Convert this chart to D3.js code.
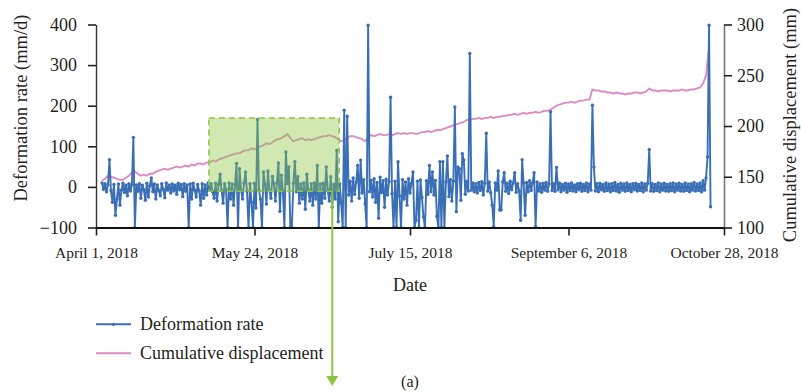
<!DOCTYPE html>
<html>
<head>
<meta charset="utf-8">
<script src="https://cdn.jsdelivr.net/npm/d3@7"></script>
<style>
  body { margin: 0; background: #fff; }
  svg { display: block; font-family: "Liberation Serif", "Times New Roman", serif; }
</style>
</head>
<body>
<svg id="chart" width="801" height="392"></svg>
<script>
// deformation rate (mm/d), one reading every 12 h from April 3, 2018
const rateValues = [
  10,-6,8,-12,5,67,-9,-38,6,-70,-30,7,-45,-8,9,-14,4,-22,8,-10,
  6,122,-100,5,-11,8,-28,4,-7,-33,9,-25,3,22,-12,7,-30,5,-9,-22,
  8,-6,-27,10,-8,5,-15,7,-10,4,-18,9,-7,6,-24,8,-11,5,-100,7,
  -30,9,-8,-25,6,-10,-45,8,-28,5,-20,10,-7,8,-12,-28,9,-35,6,31,
  -9,-40,8,-6,-100,10,-30,7,-45,5,58,-100,45,-8,-30,9,37,-11,-100,8,
  -38,-100,9,-52,166,-8,-30,-100,37,6,-42,39,-9,-28,26,7,-35,10,59,-60,
  29,-10,-100,86,8,49,-100,-100,9,62,-12,25,-40,7,-30,10,-55,31,-8,-35,
  8,-45,10,-30,53,-100,7,-40,9,-28,49,-9,-35,25,-50,6,-30,90,-86,8,
  -40,-100,189,-100,174,-20,14,-35,22,-18,12,53,-28,66,-15,18,-42,-100,398,-12,
  16,-25,20,-38,11,-77,24,-14,15,-50,19,-20,13,221,-16,-100,14,-100,62,-22,
  -100,18,-30,12,-45,20,-15,9,37,-100,-82,14,-100,17,-26,-74,-100,15,-18,53,
  -12,37,-20,16,-72,-100,62,-100,62,-100,12,76,-24,18,-35,14,197,-61,49,45,
  -33,82,66,-18,14,-10,329,-8,10,-12,8,-15,11,-9,13,-20,9,132,-10,12,
  -14,-45,-98,10,-8,39,-57,-57,12,35,-11,9,-16,14,-7,10,35,-13,8,-10,
  -82,67,9,-70,11,-12,15,-9,10,35,-98,12,-10,8,-13,9,-8,11,-11,7,
  185,-9,8,-11,48,-7,10,-12,6,-8,9,-13,7,-9,10,-10,5,-12,8,-7,
  9,-11,6,-9,10,-12,7,-8,201,49,-10,8,-12,9,-7,6,-11,10,-9,7,
  -12,8,-9,11,-10,6,-13,9,-8,7,-11,10,-9,6,-12,8,-7,9,-10,6,
  -9,10,-12,7,-8,9,92,-10,8,-11,6,-9,10,-12,7,-8,9,-10,6,-11,
  8,-9,10,-12,7,-8,9,-10,6,-11,10,-9,7,-12,8,-8,11,-10,7,-9,
  10,-12,15,-8,22,74,398,-49
];

// cumulative displacement (mm), one reading per day from April 3, 2018
const dispValues = [
  146,148,151,150,149,148,147,147,149,151,
  154,155,153,151,152,151,153,153,155,156,
  157,158,157,158,159,160,159,160,161,160,
  162,161,163,163,162,164,164,166,165,167,
  168,169,170,171,172,173,173,175,176,176,
  178,177,179,180,181,183,182,184,186,187,
  188,190,192,188,185,186,187,188,186,187,
  186,187,188,189,190,190,191,190,189,187,
  185,186,188,190,190,189,188,187,185,189,
  191,190,191,192,191,191,192,191,192,193,
  192,193,192,193,193,192,193,194,194,195,
  194,195,196,196,197,198,199,200,201,202,
  203,204,206,206,207,207,208,207,208,208,
  209,208,209,209,210,210,211,211,212,211,
  212,213,212,213,213,214,213,214,215,215,
  216,218,220,221,222,223,223,224,223,224,
  225,225,226,226,236,235,235,234,234,233,
  233,232,233,232,232,231,232,232,233,233,
  232,233,234,237,235,235,234,235,235,235,
  234,235,235,235,236,235,235,236,236,237,
  238,242,250,278
];

const seriesStart = new Date(2018, 3, 3);
const tickDates = [
  new Date(2018, 3, 1), new Date(2018, 4, 24), new Date(2018, 6, 15),
  new Date(2018, 8, 6), new Date(2018, 9, 28)
];
const rateTicks = [-100, 0, 100, 200, 300, 400];
const dispTicks = [100, 150, 200, 250, 300];
const legendLabels = ['Deformation rate', 'Cumulative displacement'];

// highlighted window
const boxStart = new Date(2018, 4, 8, 18);
const boxEnd = new Date(2018, 5, 21, 8);
const boxTop = 170, boxBottom = -11;
const arrowDate = new Date(2018, 5, 19);

const blue = '#3a6fb6';
const pink = '#d98cc6';
const green = '#8cc63f';
const ink = '#231f20';

const svg = d3.select('#chart');

const x = d3.scaleTime().domain([tickDates[0], tickDates[4]]).range([96, 724]);
const yL = d3.scaleLinear().domain([-100, 400]).range([227.5, 24.5]);
const yR = d3.scaleLinear().domain([100, 300]).range([227.5, 24.5]);

const rateData = rateValues.map((v, i) => ({ date: d3.timeHour.offset(seriesStart, i * 12), v }));
const dispData = dispValues.map((v, i) => ({ date: d3.timeDay.offset(seriesStart, i), v }));

svg.append('defs').append('clipPath').attr('id', 'plot-clip')
  .append('rect').attr('x', 96).attr('y', 20).attr('width', 628).attr('height', 208);

const plot = svg.append('g').attr('clip-path', 'url(#plot-clip)');

plot.append('path')
  .datum(dispData)
  .attr('fill', 'none')
  .attr('stroke', pink)
  .attr('stroke-width', 1.9)
  .attr('d', d3.line().x(d => x(d.date)).y(d => yR(d.v)));

plot.append('path')
  .datum(rateData)
  .attr('fill', 'none')
  .attr('stroke', blue)
  .attr('stroke-width', 1.9)
  .attr('stroke-linejoin', 'round')
  .attr('d', d3.line().x(d => x(d.date)).y(d => yL(d.v)));

plot.append('g')
  .selectAll('circle')
  .data(rateData)
  .join('circle')
  .attr('cx', d => x(d.date))
  .attr('cy', d => yL(d.v))
  .attr('r', 1.7)
  .attr('fill', blue);

// axes
const minus = d => d < 0 ? '\u2212' + Math.abs(d) : d;

const gL = svg.append('g')
  .attr('transform', 'translate(96,0)')
  .call(d3.axisLeft(yL).tickValues(rateTicks).tickSize(8).tickSizeOuter(0).tickPadding(11).tickFormat(minus));
gL.select('.domain').attr('stroke', '#333').attr('stroke-width', 1.4);

const gR = svg.append('g')
  .attr('transform', 'translate(724,0)')
  .call(d3.axisRight(yR).tickValues(dispTicks).tickSize(8).tickSizeOuter(0).tickPadding(5));
gR.select('.domain').attr('stroke', '#777').attr('stroke-width', 1.6);

const gB = svg.append('g')
  .attr('transform', 'translate(0,227.5)')
  .call(d3.axisBottom(x).tickValues(tickDates).tickSize(8).tickSizeOuter(0).tickPadding(11)
    .tickFormat(d3.timeFormat('%B %-d, %Y')));
gB.select('.domain').attr('stroke', '#111').attr('stroke-width', 2);

[gL, gR].forEach(g => g.selectAll('text').attr('font-size', 18));
gB.selectAll('text').attr('font-size', 15.5);
[gL, gR, gB].forEach(g => {
  g.attr('font-family', null);
  g.selectAll('.tick line').attr('stroke', ink).attr('stroke-width', 1.6);
  g.selectAll('text').attr('fill', ink);
});

svg.append('text')
  .attr('transform', 'translate(27,108) rotate(-90)')
  .attr('text-anchor', 'middle')
  .attr('font-size', 18.5)
  .attr('fill', ink)
  .text('Deformation rate (mm/d)');

svg.append('text')
  .attr('transform', 'translate(796,125) rotate(-90)')
  .attr('text-anchor', 'middle')
  .attr('font-size', 18.5)
  .attr('fill', ink)
  .text('Cumulative displacement (mm)');

svg.append('text')
  .attr('x', 410).attr('y', 291)
  .attr('text-anchor', 'middle')
  .attr('font-size', 18)
  .attr('fill', ink)
  .text('Date');

// highlight box and arrow
svg.append('rect')
  .attr('x', x(boxStart))
  .attr('y', yL(boxTop))
  .attr('width', x(boxEnd) - x(boxStart))
  .attr('height', yL(boxBottom) - yL(boxTop))
  .attr('fill', green)
  .attr('fill-opacity', 0.4)
  .attr('stroke', green)
  .attr('stroke-width', 1.5)
  .attr('stroke-dasharray', '6,4');

const ax = x(arrowDate);
svg.append('line')
  .attr('x1', ax).attr('x2', ax)
  .attr('y1', yL(boxBottom)).attr('y2', 377)
  .attr('stroke', green).attr('stroke-width', 2);
svg.append('path')
  .attr('d', `M${ax - 6},376 L${ax + 6},376 L${ax},386 Z`)
  .attr('fill', green);

svg.append('text')
  .attr('x', 410).attr('y', 387)
  .attr('text-anchor', 'middle')
  .attr('font-size', 16)
  .attr('fill', ink)
  .text('(a)');

// legend
const legend = svg.append('g').selectAll('g')
  .data(legendLabels)
  .join('g')
  .attr('transform', (d, i) => `translate(96,${324.3 + i * 29})`);

legend.append('line')
  .attr('x1', 0).attr('x2', 35)
  .attr('stroke', (d, i) => i === 0 ? blue : pink)
  .attr('stroke-width', 2);

legend.filter((d, i) => i === 0).append('circle')
  .attr('cx', 17.5).attr('r', 1.6).attr('fill', blue);

legend.append('text')
  .attr('x', 44).attr('y', 6)
  .attr('font-size', 18)
  .attr('fill', ink)
  .text(d => d);
</script>
</body>
</html>
